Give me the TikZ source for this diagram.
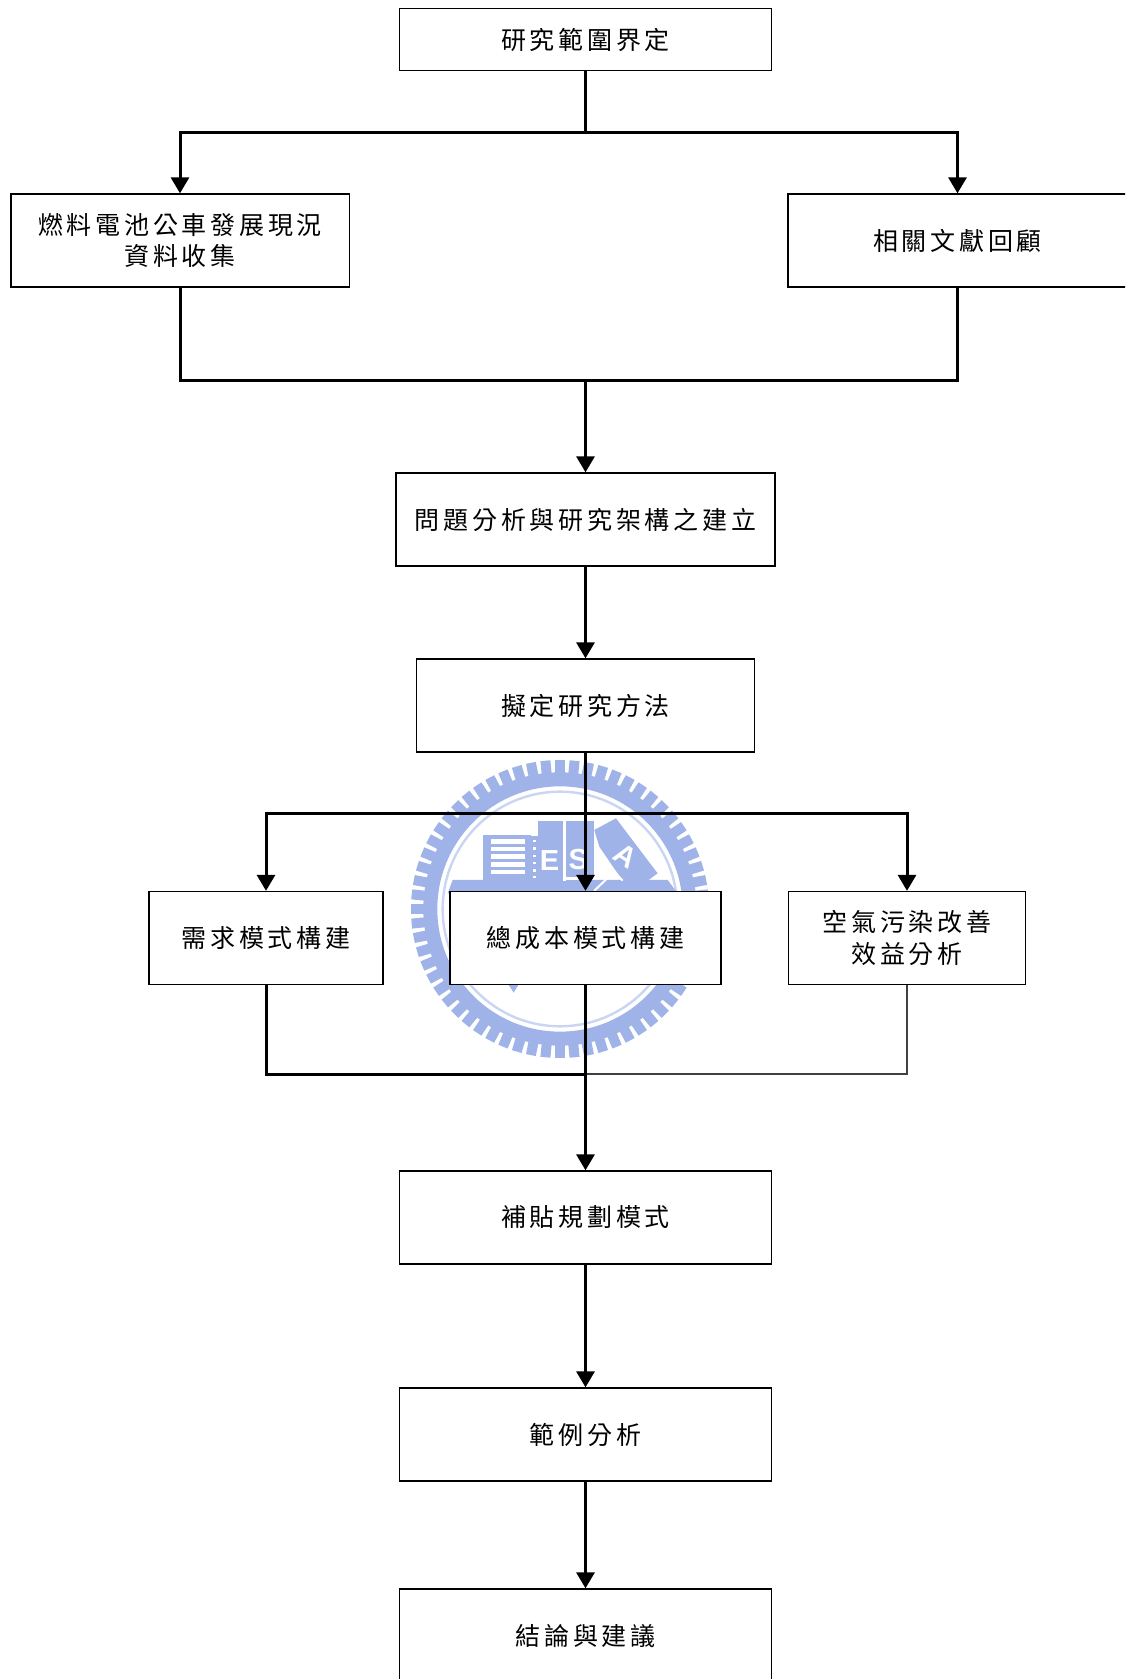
\documentclass[tikz,border=0pt]{standalone}
\usepackage{fontspec}
\usetikzlibrary{arrows.meta}
\newfontfamily\cjk[LetterSpace=15]{Noto Sans CJK TC}
\newfontfamily\wmfont{Liberation Sans}
\definecolor{wm}{HTML}{9FB3E8}
\definecolor{wmlight}{HTML}{C9D5F2}
\tikzset{
  box/.style={draw=black,fill=white,line width=1.3pt,inner sep=0pt,align=center,
    font=\cjk\fontsize{25}{31.5}\selectfont,text=black},
  flow/.style={draw=black,line width=3pt},
  thinflow/.style={draw=black!75,line width=1.2pt},
  tip/.style={-{Triangle[width=18pt,length=16pt]}},
  wmwhite/.style={fill=white,draw=none},
  wmblue/.style={fill=wm,draw=none},
  wmletter/.style={text=white,inner sep=0pt,font=\wmfont\bfseries\fontsize{29}{29}\selectfont}
}
\begin{document}
\begin{tikzpicture}[x=1pt,y=-1pt]
\useasboundingbox (0,0) rectangle (1125,1679);
\clip (0,0) rectangle (1125,1679);
\fill[white] (0,0) rectangle (1125,1679);
% watermark, written in units of a third of a pixel
\begin{scope}[shift={(381,730)},x=0.3333pt,y=-0.3333pt]
  \fill[wm,even odd rule] (537,537) circle[radius=410] (537,537) circle[radius=368];
  \foreach \a in {0,5.625,...,355} {
    \fill[wm,rotate around={\a:(537,537)}] (522,537-400) rectangle (552,537-447);
  }
  \draw[wmlight,line width=2.4pt] (537,537) circle[radius=352];
  % base
  \path[wmblue] (215,450) -- (860,450) -- (890,490) -- (200,490) -- cycle;
  \path[wmblue] (380,760) -- (415,760) -- (398,788) -- cycle;
  % left building with stripes
  \path[wmblue] (305,315) rectangle (450,452);
  \foreach \yy in {327,350,373,396,419} {
    \path[wmwhite] (330,\yy) rectangle (432,\yy+14);
  }
  % tower with dots
  \path[wmblue] (448,318) rectangle (472,452);
  \foreach \yy in {330,352,374,396,418,438} {
    \path[wmwhite] (457,\yy) rectangle (465,\yy+7);
  }
  % books
  \path[wmblue] (470,272) rectangle (545,452);
  \path[wmblue] (556,272) rectangle (640,440);
  \path[wmwhite] (545,272) rectangle (556,452);
  \path[wmwhite] (556,440) rectangle (640,450);
  \node[wmletter] (wmE) at (506,392) {E};
  \node[wmletter] (wmS) at (592,390) {S};
  \path[wmblue] (640,300) -- (705,265) -- (830,430) -- (800,452) -- (725,452) -- (655,350) -- cycle;
  \node[wmletter,rotate=-33] (wmA) at (733,378) {A};
  \draw[white,line width=2pt] (640,482) -- (700,425) -- (725,452);
\end{scope}
% boxes
\node[box,minimum width=372.5pt,minimum height=62pt] (scope) at (585.5,39.5) {研究範圍界定};
\node[box,minimum width=338.3pt,minimum height=93pt] (status) at (180,240.5) {燃料電池公車發展現況\\資料收集};
\node[box,minimum width=339pt,minimum height=93pt] (review) at (957.5,240.5) {相關文獻回顧};
\node[box,minimum width=379pt,minimum height=93pt] (problem) at (585.5,519.5) {問題分析與研究架構之建立};
\node[box,minimum width=338.5pt,minimum height=93pt] (method) at (585.5,705.5) {擬定研究方法};
\node[box,minimum width=234pt,minimum height=93pt] (demand) at (266,938) {需求模式構建};
\node[box,minimum width=271pt,minimum height=93pt] (cost) at (585.5,938) {總成本模式構建};
\node[box,minimum width=237pt,minimum height=93pt] (air) at (907,938) {空氣污染改善\\效益分析};
\node[box,minimum width=372.5pt,minimum height=93pt] (subsidy) at (585.5,1217.5) {補貼規劃模式};
\node[box,minimum width=372.5pt,minimum height=93pt] (example) at (585.5,1434.5) {範例分析};
\node[box,minimum width=372.5pt,minimum height=94pt] (end) at (585.5,1636) {結論與建議};
% junctions
\coordinate (j1) at (585.5,132);
\coordinate (j2) at (585.5,380);
\coordinate (j3) at (585.5,813.5);
\coordinate (j4) at (585.5,1074);
% connectors
\draw[flow] (scope.south) -- (j1);
\draw[flow,tip] (j1) -| (status.north);
\draw[flow,tip] (j1) -| (review.north);
\draw[flow] (status.south) |- (j2);
\draw[flow] (review.south) |- (j2);
\draw[flow,tip] (j2) -- (problem.north);
\draw[flow,tip] (problem.south) -- (method.north);
\draw[flow,tip] (method.south) -- (cost.north);
\draw[flow,tip] (j3) -| (demand.north);
\draw[flow,tip] (j3) -| (air.north);
\draw[flow] (demand.south) |- (j4);
\draw[thinflow] (air.south) |- (j4);
\draw[flow,tip] (cost.south) -- (subsidy.north);
\draw[flow,tip] (subsidy.south) -- (example.north);
\draw[flow,tip] (example.south) -- (end.north);
\end{tikzpicture}
\end{document}
